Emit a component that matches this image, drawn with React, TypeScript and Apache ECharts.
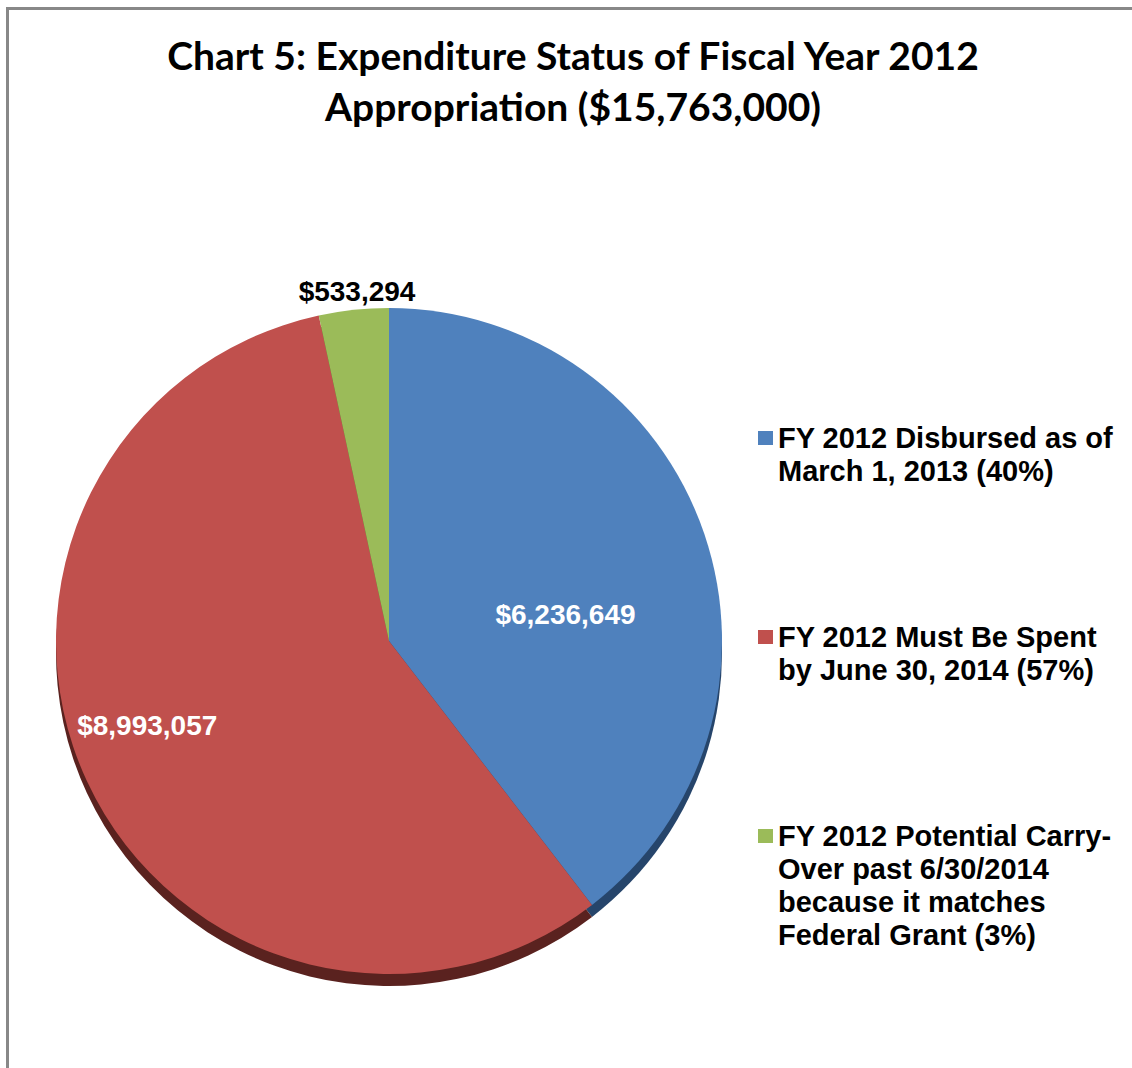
import React, { useEffect, useRef } from "react";
import * as echarts from "echarts";

// ---- data ----
const CATEGORIES: string[] = [
  "FY 2012 Disbursed as of\nMarch 1, 2013 (40%)",
  "FY 2012 Must Be Spent\nby June 30, 2014 (57%)",
  "FY 2012 Potential Carry-\nOver past 6/30/2014\nbecause it matches\nFederal Grant (3%)",
];
const VALUES: number[] = [6236649, 8993057, 533294];
const TITLE = "Chart 5: Expenditure Status of Fiscal Year 2012\nAppropriation ($15,763,000)";

// ---- styles ----
const FACE_COLORS = ["#4f81bd", "#c0504d", "#9bbb59"];
const RIM_COLORS = ["#26456b", "#5a221f", "#56702e"];
const LABEL_COLORS = ["#ffffff", "#ffffff", "#000000"];
const LABEL_SHIFT: [number, number][] = [
  [16, 28],
  [-88, 13],
  [-14, -181],
];
const LEGEND_ICON_Y = [438, 637, 836];
const LINE_H = 33;
const ARIAL = "'Liberation Sans', Arial, sans-serif";

export default function App() {
  const ref = useRef<HTMLDivElement>(null);

  useEffect(() => {
    if (!ref.current) return;
    const chart = echarts.init(ref.current, null, { renderer: "svg" });

    const legends = CATEGORIES.map((name, i) => {
      const n = name.split("\n").length;
      const H = (2 * n - 1) * LINE_H;
      return {
        show: true,
        orient: "vertical",
        left: 758,
        top: LEGEND_ICON_Y[i] - H / 2,
        padding: 0,
        itemWidth: 15,
        itemHeight: 14,
        icon: "rect",
        selectedMode: false,
        data: [name],
        formatter: (nm: string) => "\n".repeat(n - 1) + nm,
        textStyle: {
          fontFamily: ARIAL,
          fontWeight: "bold",
          fontSize: 29,
          lineHeight: LINE_H,
          color: "#000000",
        },
      };
    });

    const fmt = (v: number) => "$" + v.toLocaleString("en-US");

    chart.setOption({
      animation: false,
      backgroundColor: "#ffffff",
      title: {
        text: TITLE,
        left: 573,
        top: 29,
        textAlign: "center",
        padding: 0,
        textStyle: {
          fontFamily: "Lato, 'Open Sans', sans-serif",
          fontWeight: "bold",
          fontSize: 39,
          lineHeight: 51,
          color: "#000000",
        },
      },
      legend: legends,
      graphic: [
        {
          type: "line",
          shape: { x1: 6, y1: 8.5, x2: 1132, y2: 8.5 },
          style: { stroke: "#888888", lineWidth: 3 },
          silent: true,
        },
        {
          type: "line",
          shape: { x1: 7.5, y1: 7, x2: 7.5, y2: 1068 },
          style: { stroke: "#888888", lineWidth: 3 },
          silent: true,
        },
      ],
      series: [
        {
          type: "pie",
          name: "face",
          z: 3,
          center: [389, 641],
          radius: 333,
          startAngle: 90,
          clockwise: true,
          silent: true,
          emphasis: { disabled: true },
          itemStyle: { borderWidth: 0 },
          data: VALUES.map((v, i) => ({
            value: v,
            name: CATEGORIES[i],
            itemStyle: { color: FACE_COLORS[i] },
            label: { color: LABEL_COLORS[i] },
          })),
          label: {
            show: true,
            position: "inside",
            formatter: (p: any) => fmt(p.value),
            fontFamily: ARIAL,
            fontWeight: "bold",
            fontSize: 28,
          },
          labelLine: { show: false },
          labelLayout: (p: any) => ({
            dx: LABEL_SHIFT[p.dataIndex][0],
            dy: LABEL_SHIFT[p.dataIndex][1],
          }),
        },
        {
          type: "pie",
          name: "rim",
          z: 2,
          center: [389, 653],
          radius: 333,
          startAngle: 90,
          clockwise: true,
          silent: true,
          emphasis: { disabled: true },
          itemStyle: { borderWidth: 0 },
          data: VALUES.map((v, i) => ({
            value: v,
            name: CATEGORIES[i],
            itemStyle: { color: RIM_COLORS[i] },
          })),
          label: { show: false },
          labelLine: { show: false },
        },
      ],
    });

    return () => chart.dispose();
  }, []);

  return (
    <div
      ref={ref}
      style={{ position: "absolute", left: 0, top: 0, width: 1132, height: 1068 }}
    />
  );
}
